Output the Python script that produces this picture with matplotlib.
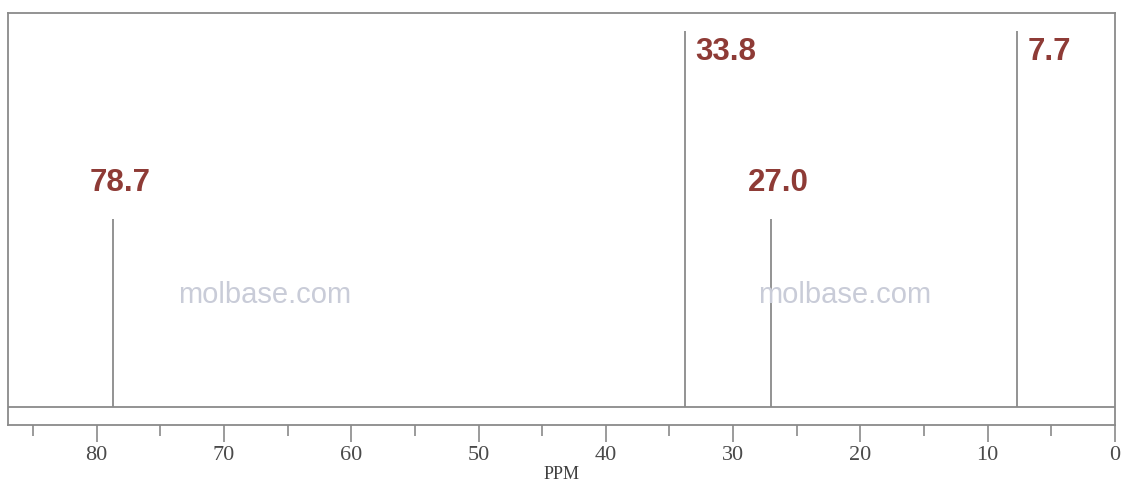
import numpy as np
import matplotlib.pyplot as plt

# peak positions (ppm) and relative heights
shifts = [78.7, 33.8, 27.0, 7.7]
heights = [0.5, 1.0, 0.5, 1.0]
labels = ["78.7", "33.8", "27.0", "7.7"]

major_ticks = [80, 70, 60, 50, 40, 30, 20, 10, 0]
minor_ticks = [85, 75, 65, 55, 45, 35, 25, 15, 5]

line_gray = "#8a8a8a"
label_red = "#8e3b36"

fig = plt.figure(figsize=(11.22, 4.87), dpi=100)
ax = fig.add_axes([8 / 1122, 62 / 487, 1107 / 1122, 412 / 487])

ax.set_xlim(86.96, 0)
ax.set_ylim(-0.048, 1.048)

ax.axhline(0, color=line_gray, lw=1.3)
ax.vlines(shifts, 0, heights, color=line_gray, lw=1.3)

for s, h, t in zip(shifts, heights, labels):
    if h >= 1:
        ax.text(s - 0.8, h - 0.015, t, ha="left", va="top", color=label_red,
                fontsize=22.5, fontweight="bold", family="Liberation Sans")
    else:
        ax.text(s - 0.55, h + 0.055, t, ha="center", va="bottom", color=label_red,
                fontsize=22.5, fontweight="bold", family="Liberation Sans")

# watermark
for xw in [0.232, 0.756]:
    ax.text(xw, 0.315, "molbase.com", transform=ax.transAxes, ha="center", va="center",
            color="#c9ccd8", fontsize=21, family="Liberation Sans")

for sp in ax.spines.values():
    sp.set_color(line_gray)
    sp.set_linewidth(1.3)

ax.set_yticks([])
ax.set_xticks(major_ticks)
ax.set_xticks(minor_ticks, minor=True)
ax.tick_params(axis="x", which="major", length=12, width=1.2, color=line_gray,
               labelsize=16, labelcolor="#4a4a4a", pad=3)
ax.tick_params(axis="x", which="minor", length=8, width=1.2, color=line_gray)
for lab in ax.get_xticklabels():
    lab.set_family("Liberation Serif")

ax.set_xlabel("PPM", family="Liberation Serif", fontsize=13, color="#404040", labelpad=1)

fig.savefig("out.png", dpi=100)
